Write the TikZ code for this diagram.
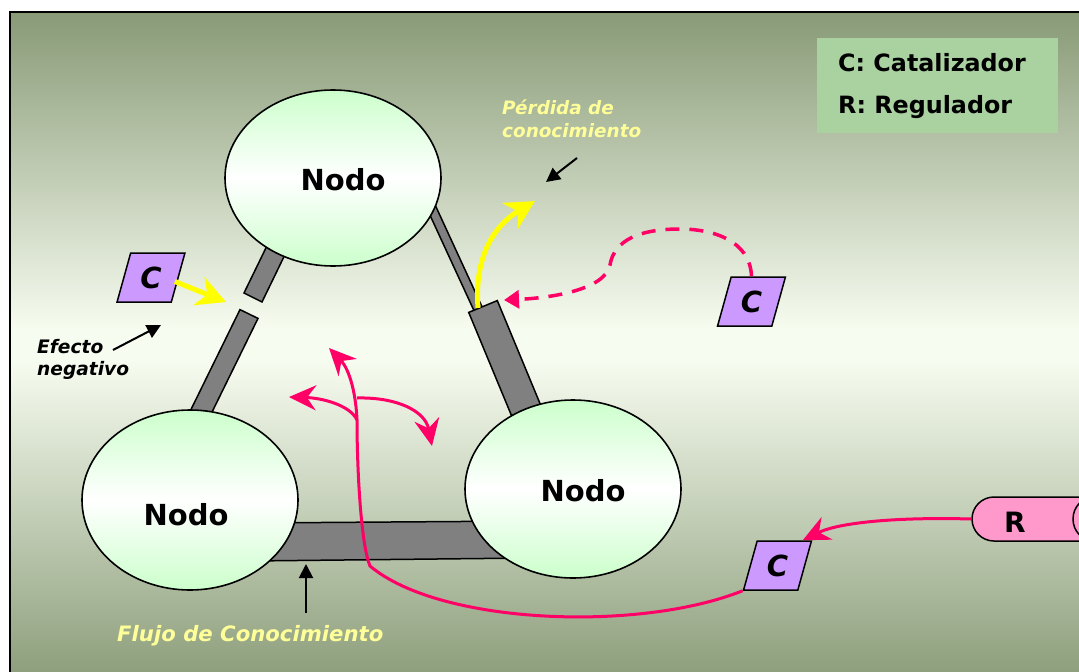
\documentclass[tikz,border=0pt]{standalone}
\usepackage{fontspec}
\setmainfont{DejaVu Sans}
\usetikzlibrary{arrows.meta,shapes.geometric,shapes.misc,calc}
\definecolor{bgdark}{HTML}{889A76}
\definecolor{bglight}{HTML}{F7FCF0}
\definecolor{nodegreen}{HTML}{CCFFCC}
\definecolor{bargray}{HTML}{808080}
\definecolor{cpurple}{HTML}{CC99FF}
\definecolor{rpink}{HTML}{FF99CC}
\definecolor{pinkline}{HTML}{FF0066}
\definecolor{yellowline}{HTML}{FFFF00}
\definecolor{textyellow}{HTML}{FFFF99}
\definecolor{legendgreen}{HTML}{AAD2A1}
\begin{document}
\begin{tikzpicture}[x=1pt,y=-1pt,
  nodo/.style={ellipse,draw=black,line width=1.6pt,top color=nodegreen,bottom color=nodegreen,middle color=white,minimum width=216pt,minimum height=176pt,inner sep=0pt},
  nodotext/.style={font=\bfseries\fontsize{29}{32}\selectfont,text=black},
  bar/.style={draw=black,line width=1.5pt,fill=bargray,line join=miter},
  cbox/.style={trapezium,trapezium left angle=72,trapezium right angle=108,trapezium stretches=true,minimum width=68pt,minimum height=49pt,inner sep=0pt,draw=black,line width=1.5pt,fill=cpurple,font=\bfseries\itshape\fontsize{29}{30}\selectfont},
  pinkarrow/.style={draw=pinkline,line width=3pt,-{Stealth[length=27pt,width=25pt,inset=9pt]}},
  yellowarrow/.style={draw=yellowline,line width=5pt,-{Stealth[length=29pt,width=30pt,inset=9pt]}},
  blackarrow/.style={draw=black,line width=2pt,-{Triangle[length=14pt,width=14pt]}},
  italbl/.style={font=\bfseries\itshape,align=left,anchor=west,inner sep=0pt}
]
\useasboundingbox (0,0) rectangle (1079,672);
\clip (0,0) rectangle (1079,672);
% background
\fill[white] (0,0) rectangle (1079,672);
\shade[top color=bgdark,bottom color=bglight] (10,12) rectangle (1100,330);
\fill[bglight] (10,329.5) rectangle (1100,360.5);
\shade[top color=bglight,bottom color=bgdark] (10,360) rectangle (1100,690);
\draw[line width=2pt] (10,700) -- (10,12) -- (1100,12);

% bars (knowledge flow links)
\draw[bar] (288,248.4) -- (262,302) -- (244,293) -- (270,239.6) -- cycle;
\draw[bar] (258,318.4) -- (205,426.4) -- (187,417.6) -- (240,309.6) -- cycle;
\draw[bar] (431,196) -- (484,311) -- (476,315) -- (423,200) -- cycle;
\draw[bar] (497.3,300.6) -- (554.8,439.2) -- (526.2,451) -- (468.7,312.4) -- cycle;
\draw[bar] (250,523) -- (530,521) -- (530,558) -- (250,561) -- cycle;

% nodes
\node[nodo] (n1) at (333,178) {};
\node[nodo,minimum height=180pt] (n2) at (190,500) {};
\node[nodo,minimum height=178pt] (n3) at (573,489) {};
\node[nodotext] (n1t) at (343,180) {Nodo};
\node[nodotext] (n2t) at (186,515) {Nodo};
\node[nodotext] (n3t) at (583,491) {Nodo};

% legend
\fill[legendgreen] (817,38) rectangle (1058,133);
\node[anchor=west,inner sep=0pt,font=\bfseries\fontsize{23.8}{26}\selectfont] (leg1) at (838,63) {C: Catalizador};
\node[anchor=west,inner sep=0pt,font=\bfseries\fontsize{23.8}{26}\selectfont] (leg2) at (838,107) {R: Regulador};

% catalysts
\node[cbox] (c1) at (151,277.5) {C};
\node[cbox] (c2) at (751.5,301.5) {C};
\node[cbox] (c3) at (777.5,565.5) {C};

% regulator (horizontal cylinder)
\node[rounded rectangle,draw=black,line width=1.5pt,fill=rpink,minimum width=150pt,minimum height=44pt,inner sep=0pt] (reg) at (1047,519) {};
\draw[line width=1.5pt,fill=rpink] (1094,519) ellipse [x radius=21pt,y radius=22pt];
\node[font=\bfseries\fontsize{28}{30}\selectfont] (regt) at (1015,522) {R};

% labels
\node[italbl,text=textyellow,font=\bfseries\itshape\fontsize{18.4}{23}\selectfont] (perd) at (502,118.5) {Pérdida de\\conocimiento};
\node[italbl,text=black,font=\bfseries\itshape\fontsize{18.6}{22}\selectfont] (efec) at (37,359) {Efecto\\negativo};
\node[italbl,text=textyellow,font=\bfseries\itshape\fontsize{21.2}{24}\selectfont] (flujo) at (117,636) {Flujo de Conocimiento};

% black pointer arrows
\coordinate (pa1) at (577,158); \coordinate (pa2) at (546,182);
\coordinate (ea1) at (113,350); \coordinate (ea2) at (161,325);
\coordinate (fa1) at (306,613); \coordinate (fa2) at (306,564);
\draw[blackarrow] (pa1) -- (pa2);
\draw[blackarrow] (ea1) -- (ea2);
\draw[blackarrow] (fa1) -- (fa2);

% yellow arrows
\coordinate (ytip1) at (226,302);
\draw[yellowarrow] (c1.east) ++(-4,4) -- (ytip1);
\coordinate (ystart) at (478,308);
\coordinate (ytip2) at (535,201);
\draw[yellowarrow] (ystart) .. controls (474,255) and (495,225) .. (ytip2);

% dashed pink catalyst arrow
\coordinate (dtip) at (504,300);
\draw[draw=pinkline,line width=3.5pt,dash pattern=on 14pt off 10pt,-{Triangle[length=15pt,width=18pt]}]
  (c2.north) .. controls (750,240) and (712,229) .. (680,229)
  .. controls (640,229) and (614,240) .. (610,265)
  .. controls (605,290) and (550,298) .. (dtip);

% regulator to catalyst
\draw[pinkarrow] (reg.west) .. controls (900,517) and (840,522) .. (c3.north east);

% long pink flow from catalyst into the triangle
\coordinate (split) at (357,420);
\coordinate (split2) at (357,398);
\draw[draw=pinkline,line width=3pt] (c3.bottom left corner) .. controls (640,632) and (440,625) .. (370,566)
  .. controls (361,545) and (357,470) .. (split);
\coordinate (t1) at (329,348);
\coordinate (t2) at (289,397);
\coordinate (t3) at (432,446);
\draw[pinkarrow] (split) .. controls (356,395) and (350,370) .. (t1);
\draw[pinkarrow] (split) .. controls (350,405) and (322,398) .. (t2);
\draw[pinkarrow] (split2) .. controls (395,397) and (425,410) .. (t3);
\end{tikzpicture}
\end{document}
